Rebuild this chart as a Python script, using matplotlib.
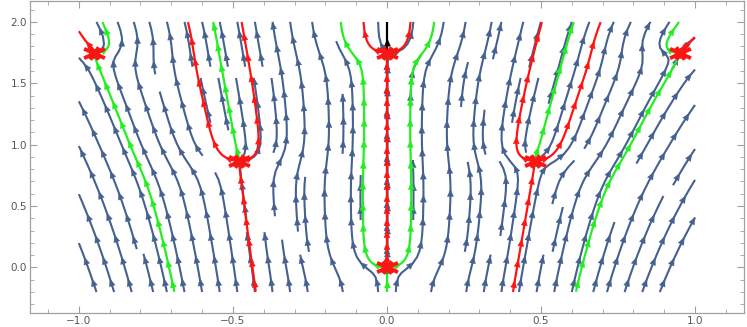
import numpy as np
import matplotlib
matplotlib.use("Agg")
import matplotlib.pyplot as plt
from matplotlib.collections import PolyCollection
from matplotlib.path import Path

# fixed points of the field (red markers)
fix_x = [0.0, 0.0, -0.48, 0.48, -0.95, 0.95]
fix_y = [0.0, 1.75, 0.87, 0.87, 1.75, 1.75]

# field parameters
SIG = 0.25       # width of the dip around each fixed point
REP = 0.6        # horizontal push away from a fixed point
POW = 1.5        # how fast the sideways drift grows with |x|
DRIFT_L = (0.15, 0.035)  # left half: drift = a + b*y
DRIFT_R = (0.20, 0.06)   # right half

# highlighted streamlines: start x, start y, direction (+1 forward, -1 backward)
red_seeds = [(0.0, 0.01, 1), (-0.01, 1.75, 1), (0.01, 1.75, 1),
             (-0.48, 0.86, -1), (-0.49, 0.87, 1), (-0.47, 0.87, 1),
             (0.48, 0.86, -1), (0.47, 0.87, 1), (0.49, 0.87, 1),
             (-0.953, 1.775, 1), (0.953, 1.775, 1)]
green_seeds = [(0.0, -0.01, -1), (-0.01, 0.0, 1), (0.01, 0.0, 1),
               (-0.4801, 0.89, 1), (0.4801, 0.89, 1),
               (-0.95, 1.73, -1), (-0.94, 1.75, 1),
               (0.95, 1.73, -1), (0.94, 1.75, 1)]
black_seeds = [(0.0, 1.77, 1)]

BLUE = "#45618f"
RED = "#ff1414"
GREEN = "#22ee22"

X0, X1, Y0, Y1 = -1.0, 1.0, -0.2, 2.0


def field(x, y):
    x = np.asarray(x, float)
    y = np.asarray(y, float)
    damp = np.ones_like(x)
    rep = np.zeros_like(x)
    for a, b in zip(fix_x, fix_y):
        g = np.exp(-((x - a) ** 2 + (y - b) ** 2) / SIG ** 2)
        damp = damp * (1 - g)
        rep = rep + (x - a) * g
    drift = np.where(x < 0, DRIFT_L[0] + DRIFT_L[1] * y, DRIFT_R[0] + DRIFT_R[1] * y)
    return drift * np.sign(x) * np.abs(x) ** POW * damp + REP * rep, damp


def trace(x, y, sign, ds=0.003, nmax=3000):
    xs, ys = [x], [y]
    def d(px, py):
        u, v = field(px, py)
        s = np.hypot(u, v) + 1e-12
        return sign * u / s, sign * v / s
    for i in range(nmax):
        k1 = d(x, y)
        k2 = d(x + ds / 2 * k1[0], y + ds / 2 * k1[1])
        k3 = d(x + ds / 2 * k2[0], y + ds / 2 * k2[1])
        k4 = d(x + ds * k3[0], y + ds * k3[1])
        x = x + ds / 6 * (k1[0] + 2 * k2[0] + 2 * k3[0] + k4[0])
        y = y + ds / 6 * (k1[1] + 2 * k2[1] + 2 * k3[1] + k4[1])
        if not (X0 <= x <= X1 and Y0 <= y <= Y1):
            break
        xs.append(float(x)); ys.append(float(y))
        if i > 20 and min(np.hypot(x - a, y - b) for a, b in zip(fix_x, fix_y)) < 0.012:
            break
    return np.array(xs), np.array(ys)


fig = plt.figure(figsize=(7.47, 3.27), dpi=100)
ax = fig.add_axes([0.040, 0.042, 0.956, 0.955])
ax.set_xlim(-1.159, 1.159)
ax.set_ylim(-0.373, 2.17)


def add_arrows(xs, ys, color, spacing=23, start=10, L=7.0, W=3.0, z=3):
    pts = ax.transData.transform(np.column_stack([xs, ys]))
    seg = np.hypot(*np.diff(pts, axis=0).T)
    s = np.concatenate([[0], np.cumsum(seg)])
    if s[-1] < L + 2:
        return
    tris = []
    for p in np.arange(start, s[-1] - 3, spacing):
        c = np.array([np.interp(p, s, pts[:, 0]), np.interp(p, s, pts[:, 1])])
        a = np.array([np.interp(p - 1.5, s, pts[:, 0]), np.interp(p - 1.5, s, pts[:, 1])])
        b = np.array([np.interp(p + 1.5, s, pts[:, 0]), np.interp(p + 1.5, s, pts[:, 1])])
        t = b - a
        n = np.hypot(*t)
        if n == 0:
            continue
        t = t / n
        q = np.array([-t[1], t[0]])
        tip = c + t * L / 2
        base = c - t * L / 2
        tri = np.array([tip, base + q * W, base - q * W])
        tris.append(ax.transData.inverted().transform(tri))
    if tris:
        ax.add_collection(PolyCollection(tris, facecolor=color, edgecolor=color,
                                         linewidth=0.3, zorder=z))


# background streamlines
gx = np.linspace(X0, X1, 201)
gy = np.linspace(Y0, Y1, 221)
GX, GY = np.meshgrid(gx, gy)
U, V = field(GX, GY)
sp = ax.streamplot(gx, gy, U, V, density=(1.2, 0.6), color=BLUE, linewidth=1.5,
                   arrowsize=0.01, minlength=0.12, zorder=2)
for p in list(ax.patches):
    p.remove()
for seg in sp.lines.get_segments():
    add_arrows(seg[:, 0], seg[:, 1], BLUE)

# highlighted streamlines
for seeds, col, z in [(red_seeds, RED, 4), (green_seeds, GREEN, 4), (black_seeds, "black", 4)]:
    for x0, y0, sg in seeds:
        xs, ys = trace(x0, y0, sg)
        if sg < 0:
            xs, ys = xs[::-1], ys[::-1]
        ax.plot(xs, ys, color=col, lw=1.6, zorder=z, solid_capstyle="butt")
        dense = (col == RED and x0 == 0.0)
        add_arrows(xs, ys, col, spacing=12 if dense else 21, start=8, z=z + 0.5)

# fixed point markers: green ellipse below a red star
ell = Path.unit_circle().transformed(matplotlib.transforms.Affine2D().scale(1.0, 0.45))
ax.plot(fix_x, np.array(fix_y) - 0.018, ls="none", marker=ell, ms=9, mfc="#2a9a2a",
        mec="#1f7a1f", mew=0.5, zorder=6)
star = Path([(-1, -0.45), (1, 0.45), (-1, 0.45), (1, -0.45),
             (-0.4, -0.6), (0.4, 0.6), (-0.4, 0.6), (0.4, -0.6)],
            [Path.MOVETO, Path.LINETO] * 4)
ax.plot(fix_x, fix_y, ls="none", marker=star, ms=15, mec=RED, mew=2.8, zorder=7)

# frame and ticks
for s in ax.spines.values():
    s.set_color("#a0a0a0")
    s.set_linewidth(0.9)
ax.set_xticks([-1.0, -0.5, 0.0, 0.5, 1.0])
ax.set_xticklabels(["\u22121.0", "\u22120.5", "0.0", "0.5", "1.0"])
ax.set_yticks([0.0, 0.5, 1.0, 1.5, 2.0])
ax.set_yticklabels(["0.0", "0.5", "1.0", "1.5", "2.0"])
ax.set_xticks(np.arange(-1.1, 1.15, 0.1), minor=True)
ax.set_yticks(np.arange(-0.3, 2.15, 0.1), minor=True)
ax.tick_params(which="both", direction="in", top=True, right=True, color="#a0a0a0",
               labelsize=7.5, labelcolor="#555555", pad=2)
ax.tick_params(which="major", length=5, width=0.8)
ax.tick_params(which="minor", length=3, width=0.6)

fig.savefig("out.png", dpi=100)
